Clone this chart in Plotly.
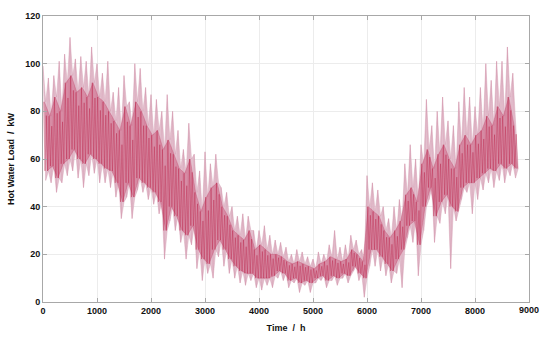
import plotly.graph_objects as go

# time stamps (h) of the sampled points
time_h = list(range(0, 8800, 100))

# axis tick labels
x_ticks = [0, 1000, 2000, 3000, 4000, 5000, 6000, 7000, 8000, 9000]
y_ticks = [0, 20, 40, 60, 80, 100, 120]

# upper envelope (peak load in each window), kW
upper = [99, 94, 95, 101, 104, 111, 102, 103, 101, 107,
         100, 96, 101, 88, 90, 95, 84, 100, 98, 90,
         87, 85, 80, 87, 80, 72, 64, 75, 62, 55,
         63, 58, 62, 48, 46, 40, 36, 37, 36, 30,
         30, 32, 28, 26, 25, 23, 20, 22, 21, 19,
         18, 21, 20, 24, 30, 23, 24, 28, 26, 22,
         53, 50, 47, 40, 35, 40, 43, 58, 66, 60,
         66, 85, 74, 80, 86, 76, 74, 84, 90, 86,
         82, 90, 100, 93, 101, 101, 107, 96]

# lower envelope (minimum load in each window), kW
lower = [51, 50, 46, 50, 53, 55, 52, 48, 53, 54,
         50, 50, 48, 44, 35, 44, 35, 47, 46, 43,
         41, 37, 18, 34, 30, 25, 18, 24, 14, 9,
         12, 10, 19, 15, 12, 10, 8, 7, 9, 6,
         5, 7, 6, 10, 9, 6, 8, 4, 7, 4,
         8, 9, 6, 9, 7, 10, 8, 13, 9, 2,
         15, 15, 13, 11, 8, 12, 6, 27, 25, 11,
         30, 43, 25, 33, 37, 14, 34, 43, 46, 37,
         43, 47, 50, 48, 51, 50, 53, 52]

# typical daily high / low (dark band), kW
mid_hi = [84, 78, 86, 80, 92, 95, 88, 90, 86, 92,
          86, 84, 80, 76, 72, 82, 74, 84, 80, 74,
          70, 72, 64, 68, 62, 56, 54, 60, 46, 38,
          44, 48, 50, 40, 36, 30, 28, 26, 30, 22,
          24, 22, 20, 20, 19, 17, 16, 17, 16, 15,
          14, 16, 17, 19, 18, 17, 18, 22, 20, 17,
          40, 38, 36, 30, 27, 30, 34, 45, 48, 42,
          58, 64, 56, 62, 66, 60, 56, 66, 70, 66,
          70, 72, 78, 74, 82, 78, 86, 74]
mid_lo = [55, 57, 52, 58, 60, 64, 60, 58, 62, 60,
          58, 56, 55, 50, 42, 50, 44, 52, 50, 48,
          46, 42, 30, 40, 36, 30, 28, 32, 22, 18,
          16, 22, 26, 22, 18, 15, 13, 12, 12, 10,
          10, 10, 11, 13, 12, 9, 10, 8, 9, 8,
          10, 11, 9, 11, 10, 12, 11, 15, 12, 10,
          22, 22, 19, 16, 13, 18, 22, 32, 34, 24,
          40, 48, 36, 42, 45, 40, 38, 48, 50, 50,
          52, 54, 56, 55, 58, 56, 58, 56]

FONT = "Arial, Liberation Sans, sans-serif"

# outer band outline: spikes to the envelope, dips to the dark band
ux, uy, lx, ly = [], [], [], []
for t, u, mh, lo, ml in zip(time_h, upper, mid_hi, lower, mid_lo):
    ux += [t, t + 50]
    uy += [u, mh]
    lx += [t + 50, t + 100]
    ly += [lo, ml]

# dark band outline
dx_top, dy_top, dx_bot, dy_bot = [], [], [], []
for t, mh, ml in zip(time_h, mid_hi, mid_lo):
    dx_top += [t + 25]
    dy_top += [mh]
    dx_bot += [t + 75]
    dy_bot += [ml]

fig = go.Figure()
fig.add_trace(go.Scatter(x=ux + lx[::-1], y=uy + ly[::-1], fill="toself",
                         fillcolor="rgba(224,186,202,0.9)",
                         line=dict(color="rgba(210,150,172,0.8)", width=0.5),
                         mode="lines", hoverinfo="skip", showlegend=False))
# fine strokes spanning the whole range
sx, sy = [], []
for t, u, lo in zip(time_h, upper, lower):
    sx += [t, t + 50]
    sy += [u, lo]
fig.add_trace(go.Scatter(x=sx, y=sy, mode="lines",
                         line=dict(color="rgba(205,130,158,0.45)", width=0.5),
                         hoverinfo="skip", showlegend=False))
# dark band fill
fig.add_trace(go.Scatter(x=dx_top + dx_bot[::-1], y=dy_top + dy_bot[::-1], fill="toself",
                         fillcolor="rgba(200,75,112,0.45)",
                         line=dict(color="rgba(190,50,90,0.55)", width=0.5),
                         mode="lines", hoverinfo="skip", showlegend=False))
# dark strokes
zx, zy = [], []
for t, mh, ml in zip(time_h, mid_hi, mid_lo):
    zx += [t + 12, t + 37, t + 62, t + 87]
    zy += [mh, ml, (mh + ml) / 2 + (mh - ml) * 0.3, ml]
fig.add_trace(go.Scatter(x=zx, y=zy, mode="lines",
                         line=dict(color="rgba(185,25,65,0.6)", width=0.6),
                         hoverinfo="skip", showlegend=False))

fig.update_layout(
    width=550, height=341,
    margin=dict(l=43, r=21, t=16, b=39),
    paper_bgcolor="white", plot_bgcolor="white",
    font=dict(family=FONT, size=9, color="#111111"),
)
common = dict(showgrid=True, gridcolor="#ececec", gridwidth=1,
              showline=True, linecolor="#a8a8a8", linewidth=1, mirror="ticks",
              ticks="inside", ticklen=4, tickcolor="#a8a8a8",
              zeroline=False, automargin=False, tickmode="array",
              tickfont=dict(family=FONT, size=9, color="#111"))
# the last x label sits on the frame edge; it is drawn as an annotation below
fig.update_xaxes(range=[0, 9000], tickvals=x_ticks[:-1],
                 ticktext=[f"<b>{v}</b>" for v in x_ticks[:-1]], **common,
                 title=dict(text="<b>Time  /  h</b>", standoff=9,
                            font=dict(family=FONT, size=9, color="#111")))
fig.update_yaxes(range=[0, 120], tickvals=y_ticks,
                 ticktext=[f"<b>{v}</b>" for v in y_ticks], **common,
                 title=dict(text="<b>Hot Water Load  /  kW</b>", standoff=9,
                            font=dict(family=FONT, size=9, color="#111")))
fig.add_annotation(x=x_ticks[-1], y=y_ticks[0], xref="x", yref="y",
                   text=f"<b>{x_ticks[-1]}</b>", showarrow=False,
                   xanchor="center", yanchor="top", yshift=-2, borderpad=0,
                   font=dict(family=FONT, size=9, color="#111"))

fig.write_html("out.html", config={"displayModeBar": False},
               post_script="document.body.style.margin='0px';")
